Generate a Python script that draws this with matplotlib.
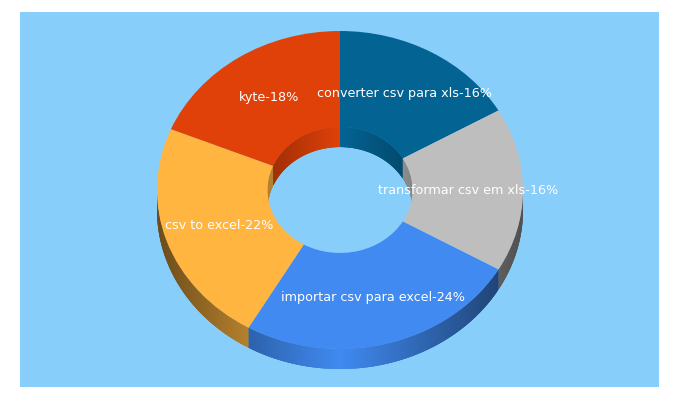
import numpy as np
from matplotlib import pyplot as plt
from matplotlib.colors import to_rgb

labels = ['converter csv para xls-16%', 'transformar csv em xls-16%', 'importar csv para excel-24%',
          'csv to excel-22%', 'kyte-18%']
values = [16, 16, 24, 22, 18]
colors = ['#036494', '#bebebe', '#408af1', '#ffb540', '#e04108']

W, H = 680, 400
# panel and ellipse in pixels
px0, px1, py0, py1 = 20, 659, 12, 387
cx, cy, rx, ry = 340, 190, 183, 159
depth = 20 / ry
hole = 0.396


def shade(color, f):
    return tuple(c * f for c in to_rgb(color))


def wall(ax, t0, t1, radius, color, strength):
    # one extruded band, split in thin quads so it can carry a gradient
    # every quad runs on a bit and gets painted over by the next one, so no seams
    ts = np.radians(np.linspace(t0, t1, int(t1 - t0) * 2 + 2))
    for k in range(len(ts) - 1):
        arc = ts[k:k + 4]
        xs = radius * np.sin(arc)
        ys = radius * np.cos(arc)
        f = 1 - strength * abs(np.sin((ts[k] + ts[k + 1]) / 2))
        ax.fill(np.concatenate([xs, xs[::-1]]), np.concatenate([ys, ys[::-1] - depth]),
                color=shade(color, f), lw=0, zorder=1)


fig = plt.figure(figsize=(W / 100, H / 100), dpi=100, facecolor='white')
ax = fig.add_axes([px0 / W, 1 - py1 / H, (px1 - px0) / W, (py1 - py0) / H])
ax.set_facecolor('#87cefa')

edges = np.concatenate([[0], np.cumsum(values)]) / sum(values) * 360

for i, c in enumerate(colors):
    # outer wall shows on the lower half, inner wall on the upper half of the hole
    t0, t1 = max(edges[i], 90), min(edges[i + 1], 270)
    if t1 > t0:
        wall(ax, t0, t1, 1.0, c, 0.58)
    for lo, hi in [(0, 90), (270, 360)]:
        t0, t1 = max(edges[i], lo), min(edges[i + 1], hi)
        if t1 > t0:
            wall(ax, t0, t1, hole, c, 0.3)

wedges, texts = ax.pie(values, labels=labels, colors=colors, startangle=90, counterclock=False,
                       radius=1.0, labeldistance=0.70,
                       wedgeprops=dict(width=1 - hole, linewidth=0, zorder=3),
                       textprops=dict(color='white', fontsize=9.15, family='DejaVu Sans',
                                      ha='center', va='center', zorder=5))

# elliptical pie: axes limits come from the pixel layout
ax.set_aspect('auto')
ax.set_xlim((px0 - cx) / rx, (px1 - cx) / rx)
ax.set_ylim((cy - py1) / ry, (cy - py0) / ry)
# pie turns the frame off, the panel colour needs it back
ax.set_frame_on(True)
for s in ax.spines.values():
    s.set_visible(False)
ax.set_xticks([])
ax.set_yticks([])

fig.savefig('out.png', dpi=100)
